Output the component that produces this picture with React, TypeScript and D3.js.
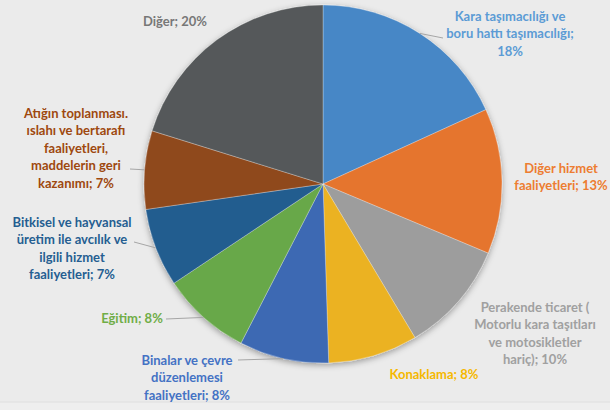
import React from 'react'
import * as d3 from 'd3'

// slices, clockwise from 12 o'clock
const categories = [
  'Kara taşımacılığı ve boru hattı taşımacılığı',
  'Diğer hizmet faaliyetleri',
  'Perakende ticaret ( Motorlu kara taşıtları ve motosikletler hariç)',
  'Konaklama',
  'Binalar ve çevre düzenlemesi faaliyetleri',
  'Eğitim',
  'Bitkisel ve hayvansal üretim ile avcılık ve ilgili hizmet faaliyetleri',
  'Atığın toplanması. ıslahı ve bertarafı faaliyetleri, maddelerin geri kazanımı',
  'Diğer',
]
const shares = [18, 13, 10, 8, 8, 8, 7, 7, 20]

const labelLines = [
  ['Kara taşımacılığı ve', 'boru hattı taşımacılığı;', '18%'],
  ['Diğer hizmet', 'faaliyetleri; 13%'],
  ['Perakende ticaret (', 'Motorlu kara taşıtları', 've motosikletler', 'hariç); 10%'],
  ['Konaklama; 8%'],
  ['Binalar ve çevre', 'düzenlemesi', 'faaliyetleri; 8%'],
  ['Eğitim; 8%'],
  ['Bitkisel ve hayvansal', 'üretim ile avcılık ve', 'ilgili hizmet', 'faaliyetleri; 7%'],
  ['Atığın toplanması.', 'ıslahı ve bertarafı', 'faaliyetleri,', 'maddelerin geri', 'kazanımı; 7%'],
  ['Diğer; 20%'],
]

const sliceColors = ['#4787c6', '#e5752f', '#9d9d9d', '#ebb223', '#3d69b3', '#68a84a', '#245d8f', '#8f4a1f', '#55595a']
const textColors = ['#5b9bd5', '#ed7d31', '#a0a0a0', '#f5b800', '#4472c4', '#70ad47', '#255e91', '#9e480e', '#777777']

// label layout: centre x, first line centre y, optional leader start
const labelPos: { x: number; y: number; leader?: [number, number] }[] = [
  { x: 510, y: 16, leader: [443, 38] },
  { x: 561, y: 168 },
  { x: 535, y: 307 },
  { x: 434, y: 374 },
  { x: 187, y: 360, leader: [238, 360] },
  { x: 132, y: 318, leader: [166, 319] },
  { x: 72, y: 222, leader: [134, 242] },
  { x: 76, y: 113, leader: [130, 169] },
  { x: 175, y: 21 },
]

const W = 610
const H = 410
const cx = 323
const cy = 184
const R = 179
const lineH = 17.5

export default function App() {
  const pie = d3.pie<number>().sort(null).value((d) => d)
  const arcs = pie(shares)
  const arc = d3.arc<d3.PieArcDatum<number>>().innerRadius(0).outerRadius(R)

  return (
    <svg
      width={W}
      height={H}
      style={{ position: 'fixed', left: 0, top: 0 }}
      fontFamily="Lato, 'Open Sans', sans-serif"
    >
      <defs>
        <filter id="shadow" x="-20%" y="-20%" width="140%" height="140%">
          <feDropShadow dx="0" dy="2" stdDeviation="3" floodColor="#000" floodOpacity="0.35" />
        </filter>
      </defs>
      <rect width={W} height={H} fill="#ebebeb" />
      <rect y={402} width={W} height={H - 402} fill="#eeeeee" />
      <line x1={0} x2={W} y1={402} y2={402} stroke="#dedede" />

      <g transform={`translate(${cx},${cy})`} filter="url(#shadow)">
        {arcs.map((a, i) => (
          <path key={categories[i]} d={arc(a) || ''} fill={sliceColors[i]} stroke="#ffffff" strokeOpacity={0.35} strokeWidth={0.8} />
        ))}
      </g>

      {arcs.map((a, i) => {
        const p = labelPos[i]
        if (!p.leader) return null
        const mid = (a.startAngle + a.endAngle) / 2
        const ex = cx + Math.sin(mid) * R
        const ey = cy - Math.cos(mid) * R
        return (
          <line key={'l' + i} x1={p.leader[0]} y1={p.leader[1]} x2={ex} y2={ey} stroke="#a6a6a6" strokeWidth={1} />
        )
      })}

      {labelLines.map((lines, i) => (
        <text
          key={'t' + i}
          textAnchor="middle"
          fontSize={13}
          fontWeight={700}
          fill={textColors[i]}
        >
          {lines.map((s, j) => (
            <tspan key={j} x={labelPos[i].x} y={labelPos[i].y + j * lineH + 4.5}>
              {s}
            </tspan>
          ))}
        </text>
      ))}
    </svg>
  )
}
